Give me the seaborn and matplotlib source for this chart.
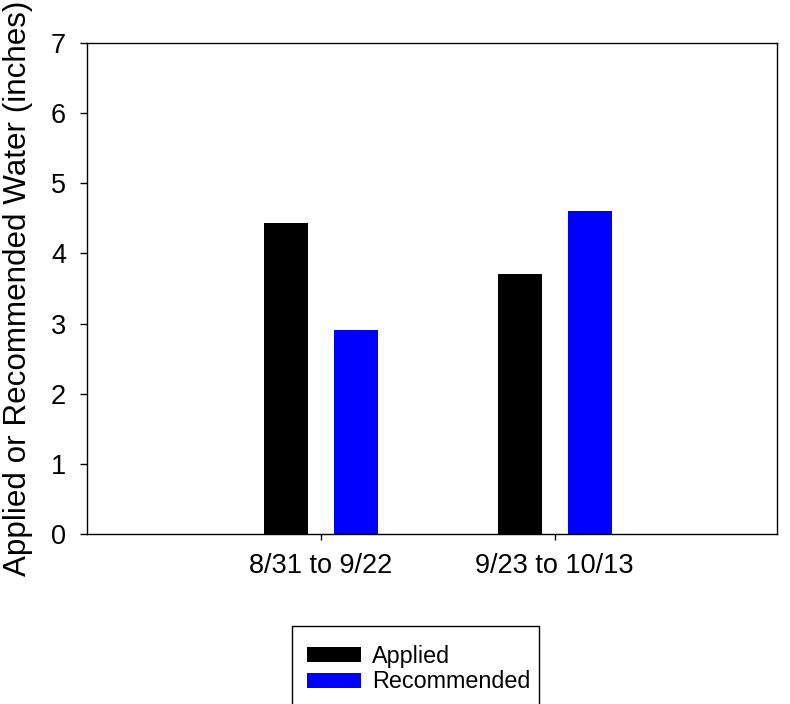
import matplotlib
matplotlib.use("Agg")
import matplotlib.pyplot as plt
import seaborn as sns
import pandas as pd
from matplotlib.patches import Rectangle

periods = ["8/31 to 9/22", "9/23 to 10/13"]
series = ["Applied", "Recommended"]
applied = [4.43, 3.70]
recommended = [2.91, 4.61]
colors = ["#000000", "#0000FF"]

df = pd.DataFrame({
    "period": periods * 2,
    "series": [series[0]] * 2 + [series[1]] * 2,
    "value": applied + recommended,
})

sns.set_theme(style="white")
plt.rcParams["font.family"] = ["Liberation Sans", "DejaVu Sans"]
plt.rcParams["text.color"] = "black"
plt.rcParams["axes.labelcolor"] = "black"
plt.rcParams["xtick.color"] = "black"
plt.rcParams["ytick.color"] = "black"

fig = plt.figure(figsize=(7.9, 7.04), dpi=100)
ax = fig.add_axes([87/790, 1 - 534/704, 690/790, 491/704])

sns.barplot(data=df, x="period", y="value", hue="series", order=periods,
            hue_order=series, palette=colors, width=0.6, gap=0.373,
            linewidth=0, saturation=1, ax=ax, legend=False)

ax.set_xlim(-1.0, 1.95)
ax.set_ylim(0, 7)
ax.set_yticks(range(0, 8))
ax.set_xlabel("")
ax.set_ylabel("Applied or Recommended Water (inches)", fontsize=22.6, color="black")
ax.yaxis.set_label_coords((33 - 87) / 690, 0.5)

for s in ax.spines.values():
    s.set_color("black")
    s.set_linewidth(1.0)
    s.set_visible(True)

ax.tick_params(axis="y", direction="out", length=5, width=1, color="black",
               labelcolor="black", labelsize=19.5, pad=10, left=True)
ax.tick_params(axis="x", direction="out", length=4.5, width=1, color="black",
               labelcolor="black", labelsize=19.5, pad=9, bottom=True)

# legend frame (extends past the bottom of the figure)
fig.patches.append(Rectangle((292/790, 1 - 722/704), 247/790, 96/704,
                             transform=fig.transFigure, fill=False,
                             edgecolor="black", linewidth=1.0, clip_on=False))

handles = [Rectangle((0, 0), 1, 1, facecolor=c, edgecolor="none") for c in colors]
leg = fig.legend(handles, series, loc="upper left",
                 bbox_to_anchor=(307/790, 1 - 645/704), frameon=False,
                 fontsize=16.8, handlelength=2.3, handleheight=0.62,
                 handletextpad=0.5, labelspacing=0.1, borderpad=0, borderaxespad=0)
for t in leg.get_texts():
    t.set_color("black")

fig.savefig("out.png", dpi=100)
